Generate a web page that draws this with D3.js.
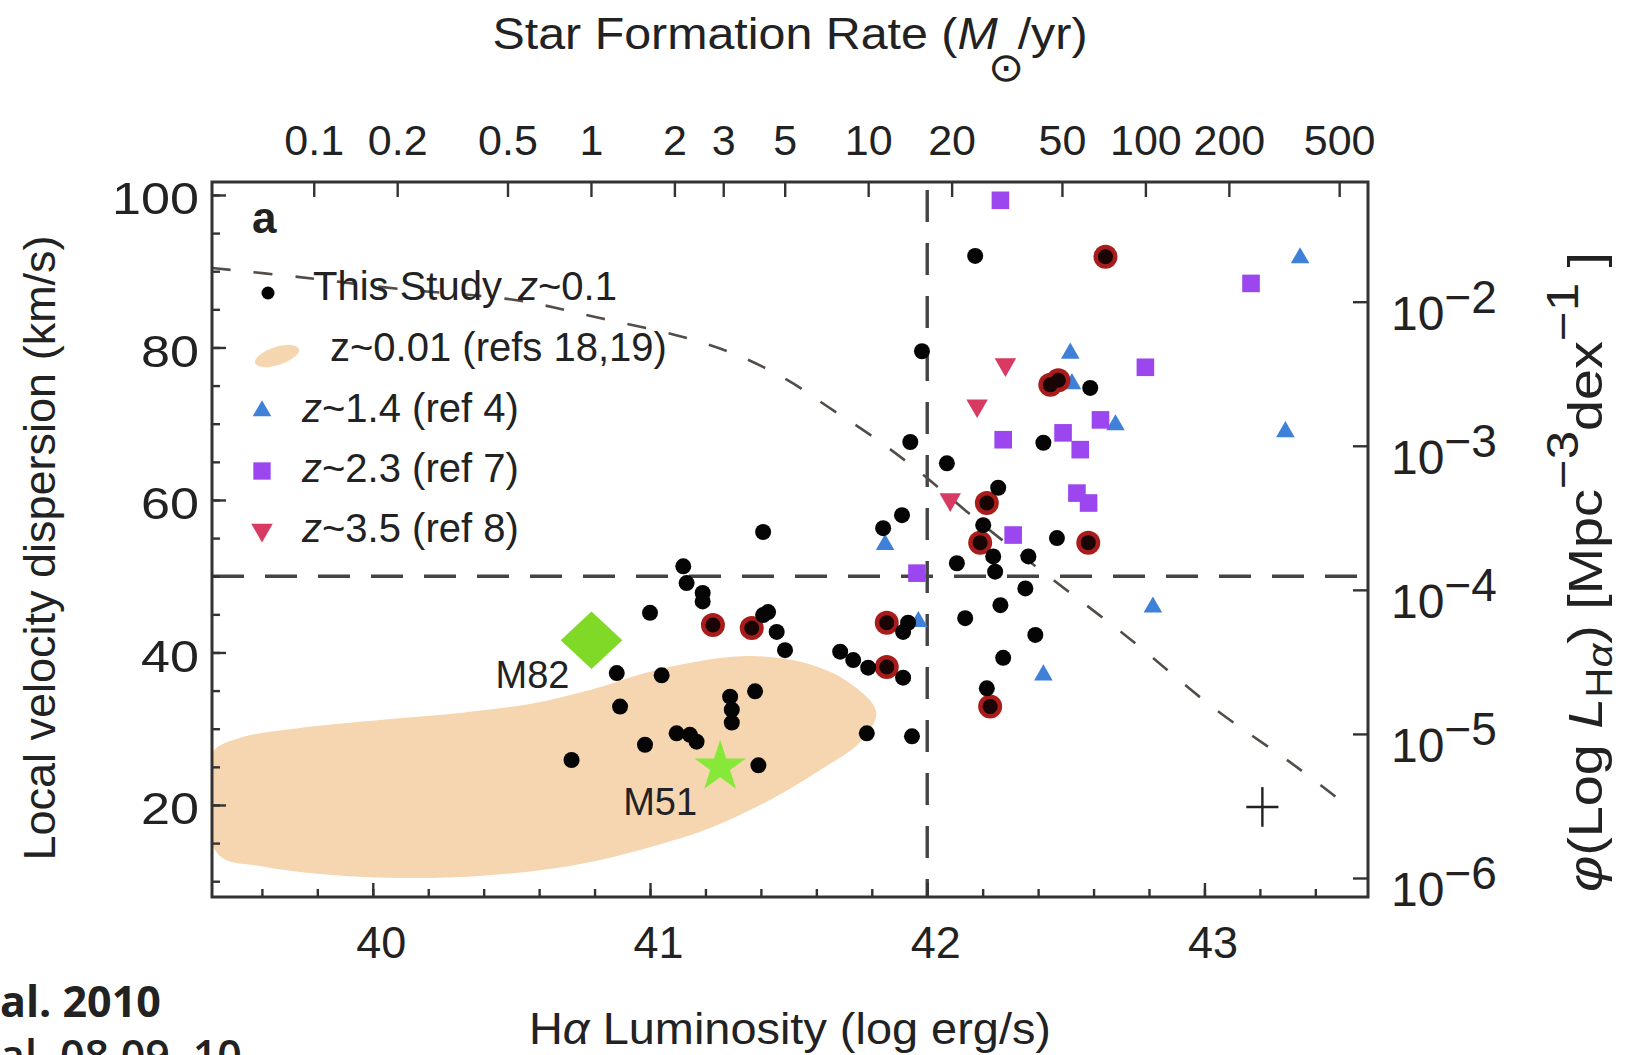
<!DOCTYPE html>
<html>
<head>
<meta charset="utf-8">
<script src="https://cdn.jsdelivr.net/npm/d3@7"></script>
<style>
  body { margin: 0; background: #fff; }
  svg { display: block; }
  text { font-family: "Liberation Sans", Arial, Helvetica, sans-serif; fill: #222; }
</style>
</head>
<body>
<svg id="chart" width="1630" height="1055"></svg>
<script>
// ---- axis ticks ----
const xTickValues = [40, 41, 42, 43];                 // log L(Hα), erg/s
const yTickValues = [20, 40, 60, 80, 100];            // km/s
const sfrTickValues = [0.1, 0.2, 0.5, 1, 2, 3, 5, 10, 20, 50, 100, 200, 500];
const phiTickExponents = [-2, -3, -4, -5, -6];
const sfrLogOffset = 40.787;                          // log L(Hα) at SFR = 1 Msun/yr

// ---- this study, z~0.1 : [log L(Hα), sigma (km/s)] ----
const thisStudy = [
  [42.173, 92.0], [41.981, 79.5], [42.588, 74.7], [42.419, 67.5], [41.939, 67.6],
  [42.071, 64.8], [42.256, 61.6], [41.909, 58.0], [41.841, 56.3], [42.202, 56.7],
  [42.238, 52.6], [42.468, 55.0], [42.107, 51.7], [42.365, 52.6], [42.245, 50.6],
  [41.408, 55.8], [41.120, 51.3], [41.132, 49.1], [41.190, 47.8], [41.190, 46.7],
  [41.000, 45.2], [41.408, 44.9], [41.426, 45.3], [41.457, 42.7], [41.487, 40.3],
  [41.686, 40.1], [41.733, 39.0], [41.787, 38.0], [41.913, 36.7], [41.913, 42.7],
  [41.931, 43.9], [42.354, 48.4], [42.264, 46.2], [42.137, 44.5], [42.390, 42.3],
  [42.274, 39.3], [42.215, 35.3], [41.042, 37.0], [41.379, 34.9], [41.289, 34.2],
  [41.295, 32.5], [41.295, 30.8], [41.096, 29.4], [41.144, 29.2], [41.168, 28.3],
  [40.982, 27.9], [41.391, 25.2], [41.782, 29.4], [41.945, 29.0], [40.880, 37.3],
  [40.892, 32.9], [40.717, 25.9]
];
// this-study galaxies drawn with a red ring
const thisStudyRinged = [
  [42.643, 91.9], [42.444, 75.1], [42.473, 75.7], [42.215, 59.6], [42.191, 54.4],
  [42.581, 54.4], [41.227, 43.6], [41.367, 43.2], [41.854, 38.1], [41.854, 43.9],
  [42.227, 32.9]
];
// z~1.4 (ref 4)
const z14 = [
  [42.516, 79.5], [42.522, 75.5], [42.679, 70.1], [41.848, 54.4], [41.968, 44.3],
  [42.419, 37.3], [43.345, 92.0], [43.292, 69.2], [42.814, 46.2]
];
// z~2.3 (ref 7)
const z23 = [
  [42.264, 99.3], [42.625, 70.5], [42.274, 67.9], [42.490, 68.8], [42.552, 66.6],
  [42.540, 60.9], [42.582, 59.6], [42.310, 55.4], [41.963, 50.4], [43.168, 88.4],
  [42.787, 77.4]
];
// z~3.5 (ref 8)
const z35 = [[42.282, 77.5], [42.180, 72.1], [42.083, 59.8]];

// z~0.01 local galaxies (refs 18,19): outline of the region they occupy
const localEnvelope = [
  [39.386, 20.0], [39.422, 26.95], [39.520, 28.79], [39.736, 30.10], [40.025, 31.15],
  [40.314, 32.07], [40.567, 33.25], [40.783, 35.08], [40.982, 37.31], [41.181, 38.89],
  [41.361, 39.54], [41.560, 38.62], [41.715, 36.13], [41.816, 32.20], [41.758, 28.26],
  [41.614, 24.59], [41.433, 20.66], [41.217, 16.98], [40.964, 14.10], [40.711, 12.00],
  [40.386, 10.69], [40.097, 10.43], [39.809, 10.95], [39.592, 12.00], [39.448, 13.31]
];

// Hα luminosity function: [log L(Hα), log phi (Mpc^-3 dex^-1)]
const lumFunction = [
  [39.419, -1.766], [39.736, -1.829], [40.097, -1.912], [40.513, -1.988],
  [40.819, -2.113], [41.119, -2.245], [41.314, -2.370], [41.495, -2.543],
  [41.643, -2.731], [41.805, -2.939], [41.964, -3.168], [42.166, -3.494],
  [42.408, -3.862], [42.722, -4.327], [43.029, -4.813], [43.332, -5.229],
  [43.516, -5.500]
];

// nearby reference galaxies
const m82 = [40.789, 41.6];
const m51 = [41.253, 25.0];
// typical uncertainty: [log L, sigma, ±log L, ±sigma]
const typicalError = [43.209, 19.74, 0.058, 2.6];

const sigmaThreshold = 50;   // km/s
const lumThreshold = 42;     // log erg/s

// ---- colours ----
const colTan = "#f6d6b0", colBlue = "#3f80d8", colPurple = "#9b46ef",
      colMagenta = "#d93a62", colRing = "#a81c1c", colGreen = "#7fd926";

const W = 1630, H = 1055;
const plot = { left: 212, right: 1368, top: 182, bottom: 897 };
const svg = d3.select("#chart");
svg.append("rect").attr("width", W).attr("height", H).attr("fill", "#fff");

const x = d3.scaleLinear().domain([39.42, 43.59]).range([plot.left, plot.right]);
const y = d3.scaleLinear().domain([7.93, 101.7]).range([plot.bottom, plot.top]);
const phi = d3.scaleLog().domain([10 ** -6.132, 10 ** -1.169]).range([plot.bottom, plot.top]);
const sfr = d3.scaleLog()
  .domain(x.domain().map(l => 10 ** (l - sfrLogOffset)))
  .range([plot.left, plot.right]);

svg.append("defs").append("clipPath").attr("id", "plotClip")
  .append("rect")
  .attr("x", plot.left).attr("y", plot.top)
  .attr("width", plot.right - plot.left).attr("height", plot.bottom - plot.top);

const g = svg.append("g").attr("clip-path", "url(#plotClip)");

// local z~0.01 region
g.append("path").datum(localEnvelope)
  .attr("d", d3.line().x(d => x(d[0])).y(d => y(d[1])).curve(d3.curveCatmullRomClosed.alpha(0.5)))
  .attr("fill", colTan);

// threshold lines
g.append("line")
  .attr("x1", plot.left).attr("x2", plot.right)
  .attr("y1", y(sigmaThreshold)).attr("y2", y(sigmaThreshold))
  .attr("stroke", "#444").attr("stroke-width", 3.4).attr("stroke-dasharray", "32,21");
g.append("line")
  .attr("x1", x(lumThreshold)).attr("x2", x(lumThreshold))
  .attr("y1", plot.top).attr("y2", plot.bottom)
  .attr("stroke", "#444").attr("stroke-width", 3.4).attr("stroke-dasharray", "32,21")
  .attr("stroke-dashoffset", -8);

// luminosity function (right axis)
g.append("path").datum(lumFunction)
  .attr("d", d3.line().x(d => x(d[0])).y(d => phi(10 ** d[1])).curve(d3.curveCatmullRom))
  .attr("fill", "none").attr("stroke", "#524d48").attr("stroke-width", 2.6)
  .attr("stroke-dasharray", "19,23");

// typical error cross
g.append("line")
  .attr("x1", x(typicalError[0] - typicalError[2])).attr("x2", x(typicalError[0] + typicalError[2]))
  .attr("y1", y(typicalError[1])).attr("y2", y(typicalError[1]))
  .attr("stroke", "#222").attr("stroke-width", 2.4);
g.append("line")
  .attr("x1", x(typicalError[0])).attr("x2", x(typicalError[0]))
  .attr("y1", y(typicalError[1] - typicalError[3])).attr("y2", y(typicalError[1] + typicalError[3]))
  .attr("stroke", "#222").attr("stroke-width", 2.4);

// high-z samples
const triUp = d3.symbol(d3.symbolTriangle, 150);
const square = d3.symbol(d3.symbolSquare, 310);
g.selectAll(".z14").data(z14).join("path")
  .attr("d", triUp).attr("fill", colBlue)
  .attr("transform", d => `translate(${x(d[0])},${y(d[1]) + 2})`);
g.selectAll(".z23").data(z23).join("path")
  .attr("d", square).attr("fill", colPurple)
  .attr("transform", d => `translate(${x(d[0])},${y(d[1])})`);
g.selectAll(".z35").data(z35).join("path")
  .attr("d", d3.symbol(d3.symbolTriangle, 200)).attr("fill", colMagenta)
  .attr("transform", d => `translate(${x(d[0])},${y(d[1]) - 2}) rotate(180)`);

// this study
g.selectAll(".ring").data(thisStudyRinged).join("circle")
  .attr("cx", d => x(d[0])).attr("cy", d => y(d[1])).attr("r", 12)
  .attr("fill", colRing);
g.selectAll(".ringcore").data(thisStudyRinged).join("circle")
  .attr("cx", d => x(d[0])).attr("cy", d => y(d[1])).attr("r", 7.5)
  .attr("fill", "#1a0505");
g.selectAll(".dot").data(thisStudy).join("circle")
  .attr("cx", d => x(d[0])).attr("cy", d => y(d[1])).attr("r", 8)
  .attr("fill", "#050505");

// M82 and M51
g.append("path")
  .attr("d", d3.symbol(d3.symbolSquare, 1900))
  .attr("fill", colGreen)
  .attr("transform", `translate(${x(m82[0])},${y(m82[1])}) scale(1,0.93) rotate(45)`);
g.append("path")
  .attr("d", d3.symbol(d3.symbolStar, 830))
  .attr("fill", "#88e83a")
  .attr("transform", `translate(${x(m51[0])},${y(m51[1])})`);
svg.append("text").attr("x", x(m82[0]) - 22).attr("y", y(m82[1]) + 48)
  .attr("text-anchor", "end").attr("font-size", 38).text("M82");
svg.append("text").attr("x", x(m51[0]) - 23).attr("y", y(m51[1]) + 48)
  .attr("text-anchor", "end").attr("font-size", 38).text("M51");

// ---- axes ----
const axisStyle = sel => {
  sel.select(".domain").remove();
  sel.selectAll("line").attr("stroke", "#333").attr("stroke-width", 2.4);
  sel.selectAll("text").attr("fill", "#222").style("font-family", '"Liberation Sans", Arial, sans-serif');
};

// bottom: log L(Hα)
svg.append("g").attr("transform", `translate(0,${plot.bottom})`)
  .call(d3.axisBottom(x).tickValues(d3.range(39.6, 43.5, 0.2)).tickSize(-8).tickFormat(""))
  .call(axisStyle);
svg.append("g").attr("transform", `translate(0,${plot.bottom})`)
  .call(d3.axisBottom(x).tickValues(xTickValues).tickSize(-14).tickPadding(29).tickFormat(d3.format("d")))
  .call(axisStyle)
  .call(s => s.selectAll("text").attr("font-size", 45).attr("dx", 8));

// left: sigma
svg.append("g").attr("transform", `translate(${plot.left},0)`)
  .call(d3.axisLeft(y).tickValues(d3.range(10, 101, 5)).tickSize(-8).tickFormat(""))
  .call(axisStyle);
svg.append("g").attr("transform", `translate(${plot.left},0)`)
  .call(d3.axisLeft(y).tickValues(yTickValues).tickSize(-14).tickPadding(13).tickFormat(d3.format("d")))
  .call(axisStyle)
  .call(s => s.selectAll("text").attr("font-size", 45).attr("dy", "0.42em")
    .attr("textLength", d => String(d).length * 29).attr("lengthAdjust", "spacingAndGlyphs"));

// top: star formation rate
svg.append("g").attr("transform", `translate(0,${plot.top})`)
  .call(d3.axisTop(sfr).tickValues(sfrTickValues).tickSize(-15).tickPadding(27).tickFormat(d => String(d)))
  .call(axisStyle)
  .call(s => s.selectAll("text").attr("font-size", 43));

// right: luminosity function
const rightAxis = svg.append("g").attr("transform", `translate(${plot.right},0)`)
  .call(d3.axisRight(phi).tickValues(phiTickExponents.map(e => 10 ** e)).tickSize(-15).tickPadding(23).tickFormat(""))
  .call(axisStyle);
rightAxis.selectAll(".tick text")
  .attr("font-size", 48).attr("dy", "0.58em")
  .each(function (d) {
    const t = d3.select(this);
    t.append("tspan").text("10");
    t.append("tspan").attr("dy", -17).attr("font-size", 46)
      .text("\u2212" + Math.abs(Math.round(Math.log10(d))));
  });

// frame
svg.append("rect")
  .attr("x", plot.left).attr("y", plot.top)
  .attr("width", plot.right - plot.left).attr("height", plot.bottom - plot.top)
  .attr("fill", "none").attr("stroke", "#333").attr("stroke-width", 3);

// ---- axis titles ----
const cx = (plot.left + plot.right) / 2;
const topTitle = svg.append("text").attr("x", cx).attr("y", 49)
  .attr("text-anchor", "middle").attr("font-size", 45)
  .attr("textLength", 595).attr("lengthAdjust", "spacingAndGlyphs");
topTitle.append("tspan").text("Star Formation Rate (");
topTitle.append("tspan").attr("font-style", "italic").text("M");
topTitle.append("tspan").attr("font-size", 40).attr("dy", 32).attr("dx", -9)
  .attr("font-family", "DejaVu Sans").text("\u2299");
topTitle.append("tspan").attr("dy", -32).attr("dx", -6).text("/yr)");

const xTitle = svg.append("text").attr("x", cx).attr("y", 1044)
  .attr("text-anchor", "middle").attr("font-size", 45)
  .attr("textLength", 522).attr("lengthAdjust", "spacingAndGlyphs");
xTitle.append("tspan").text("H");
xTitle.append("tspan").attr("font-style", "italic").text("\u03b1");
xTitle.append("tspan").text(" Luminosity (log erg/s)");

svg.append("text")
  .attr("transform", "translate(55,548) rotate(-90)")
  .attr("text-anchor", "middle").attr("font-size", 45)
  .text("Local velocity dispersion (km/s)");

const rTitle = svg.append("text")
  .attr("transform", "translate(1602,572) rotate(-90)")
  .attr("text-anchor", "middle").attr("font-size", 48)
  .attr("textLength", 640).attr("lengthAdjust", "spacingAndGlyphs");
rTitle.append("tspan").attr("font-style", "italic").text("\u03c6");
rTitle.append("tspan").text("(Log ");
rTitle.append("tspan").attr("font-style", "italic").text("L");
rTitle.append("tspan").attr("font-size", 36).attr("dy", 10).text("H");
rTitle.append("tspan").attr("font-size", 36).attr("font-style", "italic").text("\u03b1");
rTitle.append("tspan").attr("dy", -10).text(") [Mpc");
rTitle.append("tspan").attr("dy", -24).attr("font-size", 44).text("\u22123");
rTitle.append("tspan").attr("dy", 24).text("dex");
rTitle.append("tspan").attr("dy", -24).attr("font-size", 44).text("\u22121");
rTitle.append("tspan").attr("dy", 24).text(" ]");

// ---- panel letter and legend ----
svg.append("text").attr("x", 252).attr("y", 233)
  .attr("font-size", 44).attr("font-weight", "bold").text("a");

const legend = svg.append("g");
const rowY = [300, 361, 422, 482, 542];
legend.append("circle").attr("cx", 268).attr("cy", rowY[0] - 7).attr("r", 6.5).attr("fill", "#050505");
const t1 = legend.append("text").attr("x", 313).attr("y", rowY[0]).attr("font-size", 40);
t1.append("tspan").text("This Study");
t1.append("tspan").attr("x", 518).attr("font-style", "italic").text("z");
t1.append("tspan").text("~0.1");

legend.append("ellipse").attr("cx", 277).attr("cy", rowY[1] - 5).attr("rx", 23).attr("ry", 9)
  .attr("transform", `rotate(-18,277,${rowY[1] - 5})`).attr("fill", colTan);
legend.append("text").attr("x", 330).attr("y", rowY[1]).attr("font-size", 40).text("z~0.01 (refs 18,19)");

legend.append("path").attr("d", d3.symbol(d3.symbolTriangle, 150)).attr("fill", colBlue)
  .attr("transform", `translate(262,${rowY[2] - 11})`);
legend.append("path").attr("d", d3.symbol(d3.symbolSquare, 300)).attr("fill", colPurple)
  .attr("transform", `translate(262,${rowY[3] - 11})`);
legend.append("path").attr("d", d3.symbol(d3.symbolTriangle, 200)).attr("fill", colMagenta)
  .attr("transform", `translate(262,${rowY[4] - 12}) rotate(180)`);
const legendLabels = [["1.4", "4"], ["2.3", "7"], ["3.5", "8"]];
legendLabels.forEach((lab, i) => {
  const t = legend.append("text").attr("x", 302).attr("y", rowY[i + 2]).attr("font-size", 40);
  t.append("tspan").attr("font-style", "italic").text("z");
  t.append("tspan").text(`~${lab[0]} (ref ${lab[1]})`);
});

// ---- citation notes at the lower left ----
svg.append("text").attr("x", 0).attr("y", 1017)
  .attr("font-size", 43).attr("font-weight", "bold")
  .style("font-family", '"Open Sans", sans-serif').text("al. 2010");
svg.append("text").attr("x", 0).attr("y", 1071)
  .attr("font-size", 43).attr("font-weight", 600)
  .style("font-family", '"Open Sans", sans-serif').text("al. 08,09, 10");
</script>
</body>
</html>
